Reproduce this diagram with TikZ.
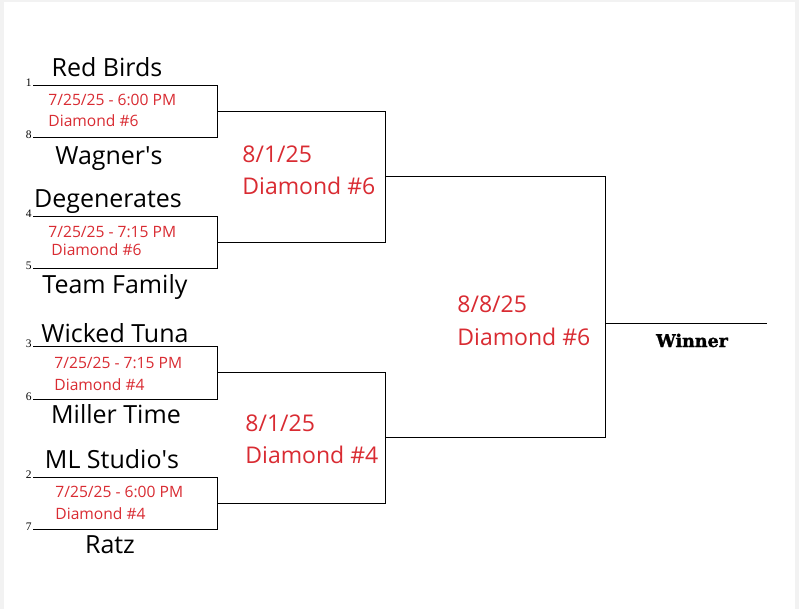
\documentclass[tikz,border=0pt]{standalone}
\usepackage{fontspec}
\setmainfont{Open Sans}
\newfontfamily\seedfont{Liberation Serif}
\newfontfamily\winfont{DejaVu Serif}[BoldFeatures={FakeBold=1.5}]
\usetikzlibrary{calc}
\definecolor{gamered}{HTML}{D92B32}
\definecolor{pagegray}{HTML}{F2F2F2}
\tikzset{
  team/.style={font=\fontsize{25}{28}\selectfont,inner sep=0pt,anchor=base},
  slot/.style={font=\fontsize{15.6}{18}\selectfont,text=gamered,inner sep=0pt,anchor=base west},
  rnd/.style={font=\fontsize{23}{26}\selectfont,text=gamered,inner sep=0pt,anchor=base west},
  seed/.style={font=\seedfont\fontsize{11.5}{12}\selectfont,inner sep=0pt,anchor=base east},
}

\begin{document}
\begin{tikzpicture}[x=1pt,y=-1pt,line width=0.9pt]
  \fill[pagegray] (0,0) rectangle (799,609);
  \fill[white] (4,2) rectangle (795,609);
  \useasboundingbox (0,0) rectangle (799,609);
  % first round
  \foreach \m/\t/\b in {1/85/137,2/216/268,3/346/399,4/477/529}{
    \coordinate (T\m) at (33,\t);
    \coordinate (B\m) at (33,\b);
    \coordinate (O\m) at (217,{(\t+\b)/2});
    \draw (T\m) -- (T\m -| O\m) -- (B\m -| O\m) -- (B\m);
  }
  % second round
  \coordinate (S1) at (385,176.5);
  \coordinate (S2) at (385,437.75);
  \draw (O1) -- (O1 -| S1) -- (O2 -| S1) -- (O2);
  \draw (O3) -- (O3 -| S2) -- (O4 -| S2) -- (O4);
  % final
  \coordinate (F) at (605,323);
  \coordinate (W) at (767,323);
  \draw (S1) -- (S1 -| F) -- (S2 -| F) -- (S2);
  \draw (F) -- (W);
  % seeds
  \node[seed] (s1) at ($(T1)+(-1,1.5)$) {1};
  \node[seed] (s8) at ($(B1)+(-1,1.5)$) {8};
  \node[seed] (s4) at ($(T2)+(-1,1.5)$) {4};
  \node[seed] (s5) at ($(B2)+(-1,1.5)$) {5};
  \node[seed] (s3) at ($(T3)+(-1,1.5)$) {3};
  \node[seed] (s6) at ($(B3)+(-1,1.5)$) {6};
  \node[seed] (s2) at ($(T4)+(-1,1.5)$) {2};
  \node[seed] (s7) at ($(B4)+(-1,1.5)$) {7};
  % teams
  \node[team] (redbirds) at (107,77)  {Red Birds};
  \node[team] (wagners)  at (109,165) {Wagner\textquotesingle s};
  \node[team] (degen)    at (108,208) {Degenerates};
  \node[team] (family)   at (115,293) {Team Family};
  \node[team] (tuna)     at (115,342) {Wicked Tuna};
  \node[team] (miller)   at (116,423) {Miller Time};
  \node[team] (mlstudio) at (112,468) {ML Studio\textquotesingle s};
  \node[team] (ratz)     at (110,553) {Ratz};
  % game slots
  \node[slot] (g1date) at (48,106) {7/25/25 - 6:00 PM};
  \node[slot] (g1dia)  at (48,127) {Diamond \#6};
  \node[slot] (g2date) at (48,238) {7/25/25 - 7:15 PM};
  \node[slot] (g2dia)  at (51,255) {Diamond \#6};
  \node[slot] (g3date) at (54,368) {7/25/25 - 7:15 PM};
  \node[slot] (g3dia)  at (54,390) {Diamond \#4};
  \node[slot] (g4date) at (55,497) {7/25/25 - 6:00 PM};
  \node[slot] (g4dia)  at (55,519) {Diamond \#4};
  % later rounds
  \node[rnd] (s1date) at (242,163) {8/1/25};
  \node[rnd] (s1dia)  at (242,195) {Diamond \#6};
  \node[rnd] (s2date) at (245,431) {8/1/25};
  \node[rnd] (s2dia)  at (245,463) {Diamond \#4};
  \node[rnd] (fdate)  at (457,312) {8/8/25};
  \node[rnd] (fdia)   at (457,345) {Diamond \#6};
  \node[font=\winfont\bfseries\fontsize{17.5}{20}\selectfont,inner sep=0pt,anchor=base] (winner) at (692,347) {Winner};
\end{tikzpicture}
\end{document}
